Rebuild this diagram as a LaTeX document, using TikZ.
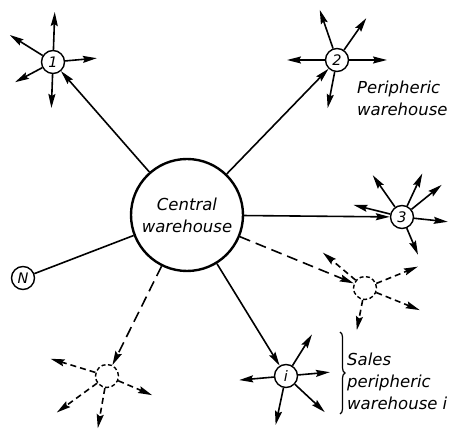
\documentclass[tikz,border=0pt]{standalone}
\usepackage{fontspec}
\setmainfont{DejaVu Sans}
\usetikzlibrary{arrows.meta, decorations.pathreplacing}

\begin{document}
\begin{tikzpicture}[x=1pt, y=1pt,
      store/.style={circle, draw, line width=1.4pt, minimum size=23pt, inner sep=0pt, fill=white,
                    font=\fontsize{14.5}{14.5}\selectfont\itshape},
      plan/.style={store, dash pattern=on 4pt off 2.5pt},
      arr/.style={-{Stealth[length=14pt, width=7pt, inset=2pt]}, line width=1.6pt},
      darr/.style={arr, dash pattern=on 6pt off 4pt},
      lbl/.style={font=\fontsize{16.5}{22}\selectfont\itshape, align=left}]
    \useasboundingbox (0,0) rectangle (449,430);
    \node[circle, draw, line width=2.4pt, minimum size=112pt, lbl, align=center] (cw) at (187,215)
      {Central\\warehouse};
    \node[store] (w1) at (53,368) {1};
    \node[store] (w2) at (337,370) {2};
    \node[store] (w3) at (402,213) {3};
    \node[store] (wi) at (286,54) {i};
    \node[store] (wn) at (23,152) {N};
    \node[plan] (wa) at (365,142) {};
    \node[plan] (wb) at (107,54) {};
    \node[lbl, anchor=west, inner sep=0pt] (peri) at (357,332) {Peripheric\\warehouse};
    \node[lbl, anchor=west, inner sep=0pt] (sales) at (347,49) {Sales\\peripheric\\warehouse i};
    \draw[decorate, decoration={brace, amplitude=5pt}, line width=1.2pt] (340,98) -- (340,16);
    \draw[arr] (cw) -- (w1);
    \draw[arr] (cw) -- (w2);
    \draw[arr] (cw) -- (w3);
    \draw[arr] (cw) -- (wi);
    \draw[line width=1.6pt] (cw) -- (wn);
    \draw[arr, dash pattern=on 11pt off 6pt] (cw) -- (wa);
    \draw[arr, dash pattern=on 11pt off 6pt] (cw) -- (wb);
    \foreach \a/\l in {88/50, 148/51, 5/44, 208/43, 268/46}
      \draw[arr] (w1) -- ++(\a:\l);
    \foreach \a/\l in {109/53, 55/51, 180/50, 0/50, 259/49}
      \draw[arr] (w2) -- ++(\a:\l);
    \foreach \a/\l in {125/51, 65/48, 39/51, 166/50, -6/46, 293/41}
      \draw[arr] (w3) -- ++(\a:\l);
    \foreach \a/\l in {58/49, 5/44, -43/53, 258/50, 185/47}
      \draw[arr] (wi) -- ++(\a:\l);
    \foreach \a/\l in {140/55, 22/57, -22/59, 259/43}
      \draw[darr] (wa) -- ++(\a:\l);
    \foreach \a/\l in {163/59, 216/62, 260/53, -23/49}
      \draw[darr] (wb) -- ++(\a:\l);
  \end{tikzpicture}
\end{document}
